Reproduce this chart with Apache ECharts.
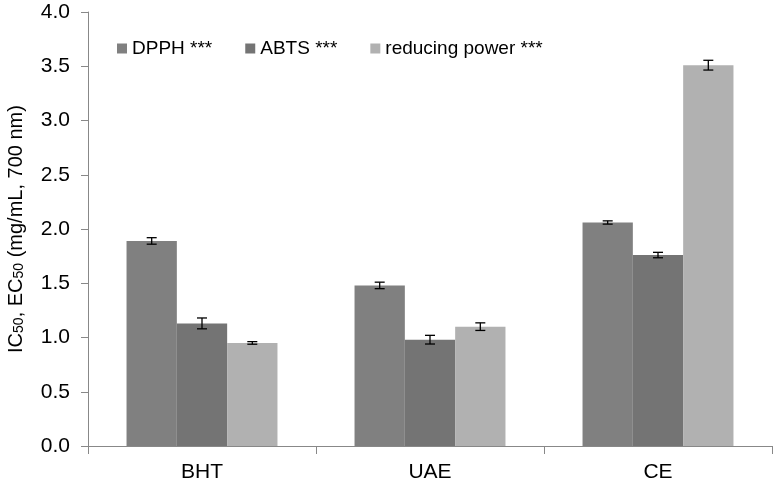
<!DOCTYPE html>
<html>
<head>
<meta charset="utf-8">
<script src="https://cdn.jsdelivr.net/npm/echarts@6/dist/echarts.min.js"></script>
<style>
html, body { margin: 0; padding: 0; background: #fff; }
#main { width: 774px; height: 485px; }
</style>
</head>
<body>
<div id="main"></div>
<script>
// 数据
var categories = ['BHT', 'UAE', 'CE']
var seriesNames = ['DPPH ***', 'ABTS ***', 'reducing power ***']
var dpph = [1.89, 1.48, 2.06]
var abts = [1.13, 0.98, 1.76]
var reducing = [0.95, 1.10, 3.51]
var dpphErr = [0.03, 0.03, 0.015]
var abtsErr = [0.05, 0.04, 0.025]
var reducingErr = [0.012, 0.035, 0.045]
var yTicks = [0, 0.5, 1.0, 1.5, 2.0, 2.5, 3.0, 3.5, 4.0]

var colors = ['#808080', '#747474', '#b1b1b1']
var catGap = 0.338

var values = [dpph, abts, reducing]
var errs = [dpphErr, abtsErr, reducingErr]
var errData = []
values.forEach(function (arr, s) {
    arr.forEach(function (v, i) {
        errData.push([i, v, errs[s][i], s])
    })
})

var myChart = echarts.init(document.getElementById('main'))
var font = 'Liberation Sans, Arial, sans-serif'

var option = {
    animation: false,
    textStyle: { fontFamily: font },
    grid: { left: 88, right: 2, top: 12, bottom: 39, containLabel: false, outerBoundsMode: 'none' },
    legend: {
        data: seriesNames,
        left: 112,
        top: 34,
        icon: 'rect',
        itemWidth: 10,
        itemHeight: 10,
        itemGap: 33,
        textStyle: { fontSize: 19, color: '#000', fontFamily: font }
    },
    xAxis: {
        type: 'category',
        data: categories,
        axisLine: { lineStyle: { color: '#888', width: 1 } },
        axisTick: { show: true, length: 8, lineStyle: { color: '#888' } },
        axisLabel: { fontSize: 21, color: '#000', margin: 16 }
    },
    yAxis: {
        type: 'value',
        min: 0,
        max: 4,
        interval: 0.5,
        name: '{n|IC}{s|50}{n|, EC}{s|50}{n| (mg/mL, 700 nm)}',
        nameLocation: 'middle',
        nameGap: 62,
        nameTextStyle: {
            rich: {
                n: { fontSize: 20, color: '#000', fontFamily: font, verticalAlign: 'bottom', lineHeight: 22 },
                s: { fontSize: 14, color: '#000', fontFamily: font, verticalAlign: 'bottom', lineHeight: 19 }
            }
        },
        splitLine: { show: false },
        axisLine: { show: true, lineStyle: { color: '#888', width: 1 } },
        axisTick: { show: true, length: 7, lineStyle: { color: '#888' } },
        axisLabel: {
            fontSize: 21,
            color: '#000',
            margin: 18,
            formatter: function (v) { return v.toFixed(1) }
        }
    },
    series: [
        {
            name: seriesNames[0],
            type: 'bar',
            data: dpph,
            barGap: 0,
            barCategoryGap: (catGap * 100) + '%',
            itemStyle: { color: colors[0] }
        },
        {
            name: seriesNames[1],
            type: 'bar',
            data: abts,
            itemStyle: { color: colors[1] }
        },
        {
            name: seriesNames[2],
            type: 'bar',
            data: reducing,
            itemStyle: { color: colors[2] }
        },
        {
            // 误差线
            type: 'custom',
            data: errData,
            encode: { x: 0, y: 1 },
            z: 10,
            renderItem: function (params, api) {
                var cat = api.value(0)
                var v = api.value(1)
                var e = api.value(2)
                var s = api.value(3)
                var bw = api.size([1, 0])[0] * (1 - catGap) / 3
                var c = api.coord([cat, v])
                var x = c[0] + (s - 1) * bw
                var hi = api.coord([cat, v + e])[1]
                var lo = api.coord([cat, v - e])[1]
                var cap = 5
                var st = { stroke: '#000', lineWidth: 1.3 }
                return {
                    type: 'group',
                    children: [
                        { type: 'line', shape: { x1: x, y1: hi, x2: x, y2: lo }, style: st },
                        { type: 'line', shape: { x1: x - cap, y1: hi, x2: x + cap, y2: hi }, style: st },
                        { type: 'line', shape: { x1: x - cap, y1: lo, x2: x + cap, y2: lo }, style: st }
                    ]
                }
            }
        }
    ]
}

option && myChart.setOption(option)
</script>
</body>
</html>
